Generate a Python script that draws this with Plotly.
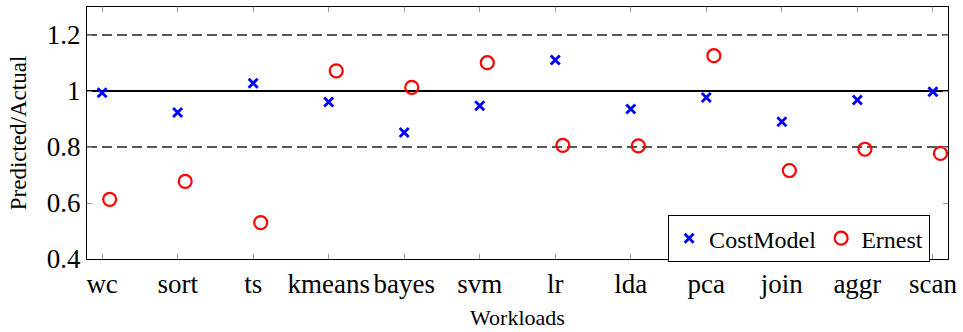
import plotly.graph_objects as go

# Workloads on the x axis
workloads = ["wc", "sort", "ts", "kmeans", "bayes", "svm",
             "lr", "lda", "pca", "join", "aggr", "scan"]

# Predicted/actual runtime ratios per model
costmodel = [0.994, 0.923, 1.028, 0.961, 0.852, 0.947,
             1.111, 0.936, 0.977, 0.890, 0.968, 0.997]
ernest = [0.613, 0.677, 0.530, 1.072, 1.013, 1.101,
          0.806, 0.804, 1.126, 0.716, 0.792, 0.777]

# Y axis ticks
y_ticks = [0.4, 0.6, 0.8, 1.0, 1.2]
y_ticktext = ["0.4", "0.6", "0.8", "1", "1.2"]

# Reference levels: exact prediction and +/-20% band
exact_level = 1.0
band_levels = [0.8, 1.2]

FONT = "'Liberation Serif', 'Times New Roman', serif"
idx = list(range(len(workloads)))
ernest_shift = 0.1  # circles drawn slightly right of each category

fig = go.Figure()
fig.add_trace(go.Scatter(
    x=idx, y=costmodel, mode="markers", name="CostModel",
    marker=dict(symbol="x-thin-open", size=9, color="blue",
                line=dict(color="blue", width=2.8)),
))
fig.add_trace(go.Scatter(
    x=[i + ernest_shift for i in idx], y=ernest, mode="markers", name="Ernest",
    marker=dict(symbol="circle-open", size=13, color="red",
                line=dict(color="red", width=2.2)),
))

shapes = [dict(type="line", xref="paper", x0=0, x1=1, yref="y",
               y0=exact_level, y1=exact_level, layer="below",
               line=dict(color="black", width=2))]
for lv in band_levels:
    shapes.append(dict(type="line", xref="paper", x0=0, x1=1, yref="y",
                       y0=lv, y1=lv, layer="below",
                       line=dict(color="#222222", width=1.3, dash="10px,5px")))

fig.update_layout(
    width=963, height=332,
    margin=dict(l=87, r=12, t=6, b=68),
    paper_bgcolor="white", plot_bgcolor="white",
    font=dict(family=FONT, color="black"),
    shapes=shapes,
    showlegend=True,
    legend=dict(
        orientation="h", x=0.979, y=0.175, xanchor="right", yanchor="top",
        bordercolor="black", borderwidth=1.2, bgcolor="white",
        font=dict(family=FONT, size=24), itemwidth=30,
        tracegroupgap=0,
    ),
    xaxis=dict(
        range=[-0.2, 11.2],
        tickmode="array", tickvals=idx, ticktext=workloads,
        ticks="inside", ticklen=5, tickcolor="#999999", tickwidth=1,
        showline=True, linecolor="black", linewidth=1.2, mirror="allticks",
        showgrid=False, zeroline=False,
        tickfont=dict(family=FONT, size=27),
        title=dict(text="Workloads", font=dict(family=FONT, size=22), standoff=12),
    ),
    yaxis=dict(
        range=[0.4, 1.3],
        tickmode="array", tickvals=y_ticks, ticktext=y_ticktext,
        ticks="inside", ticklen=5, tickcolor="#999999", tickwidth=1,
        showline=True, linecolor="black", linewidth=1.2, mirror="allticks",
        showgrid=False, zeroline=False,
        tickfont=dict(family=FONT, size=27),
        title=dict(text="Predicted/Actual", font=dict(family=FONT, size=23), standoff=13),
    ),
)

fig.write_html("out.html")
